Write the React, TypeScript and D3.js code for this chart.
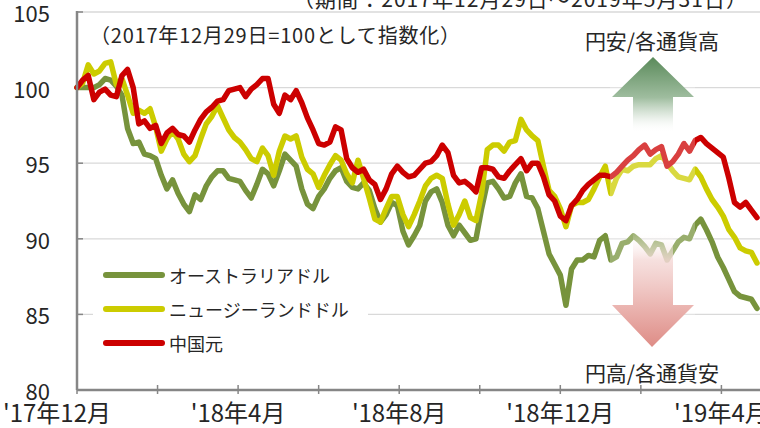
import { useEffect, useRef } from 'react';
import * as d3 from 'd3';

// 2017/12/29 = 100 indexed, one point every 3 trading days
const audValues = [
  100.0, 100.0, 100.0, 100.0, 100.2, 100.6, 100.5, 100.1, 99.5, 97.3,
  96.3, 96.4, 95.6, 95.5, 95.3, 94.2, 93.3, 93.9, 93.0, 92.3,
  91.8, 92.9, 92.6, 93.5, 94.1, 94.5, 94.5, 94.0, 93.9, 93.8,
  93.2, 92.7, 93.6, 94.6, 94.3, 93.5, 94.5, 95.6, 95.2, 94.8,
  93.3, 92.3, 92.0, 92.8, 93.3, 94.0, 94.5, 94.7, 93.8, 93.4,
  93.3, 93.7, 93.2, 92.0, 91.1, 91.6, 92.4, 92.2, 90.5, 89.6,
  90.2, 90.9, 92.5, 93.1, 93.3, 92.4, 90.9, 90.2, 90.9, 90.4,
  89.9, 90.0, 92.0, 93.7, 93.8, 93.3, 92.7, 92.8, 93.7, 94.3,
  92.8, 92.7, 92.0, 90.5, 89.0, 88.3, 87.6, 85.6, 88.0, 88.6,
  88.6, 88.9, 88.8, 89.9, 90.2, 88.6, 88.8, 89.7, 89.8, 90.2,
  89.9, 89.5, 89.0, 89.7, 89.6, 88.6, 89.2, 89.8, 90.1, 90.0,
  90.9, 91.3, 90.6, 89.8, 88.8, 88.1, 87.3, 86.5, 86.2, 86.1,
  86.0, 85.4,
];

const nzdValues = [
  100.0, 100.3, 101.5, 100.9, 101.1, 101.6, 101.7, 100.2, 100.6, 99.5,
  98.3, 98.5, 98.3, 98.6, 97.4, 95.8, 96.6, 97.1, 96.6, 95.6,
  95.1, 95.5, 96.6, 97.6, 98.1, 98.8, 98.0, 97.2, 96.7, 96.4,
  95.9, 95.3, 95.1, 96.0, 95.5, 94.2, 95.8, 96.8, 96.6, 96.8,
  95.4, 94.6, 94.3, 93.4, 94.2, 94.9, 95.5, 95.2, 94.3, 93.7,
  95.2, 94.0, 92.7, 91.3, 91.1, 92.0, 92.8, 92.8, 91.6, 90.8,
  91.6, 92.5, 93.5, 94.0, 94.2, 94.0, 92.3, 90.9, 91.6, 92.5,
  91.4, 91.2, 93.0, 95.9, 96.2, 96.2, 95.8, 96.4, 96.5, 97.9,
  97.2, 96.8, 96.5, 94.8, 93.2, 92.8, 92.0, 90.8, 92.2, 92.4,
  92.4, 92.6, 93.3, 94.1, 94.8, 93.0, 94.0, 94.6, 94.5, 94.8,
  94.9, 94.9, 94.9, 95.3, 95.5, 95.0, 94.5, 94.1, 94.0, 93.9,
  94.6, 94.1, 93.3, 92.6, 92.1, 91.5, 90.6, 90.1, 89.4, 89.2,
  89.1, 88.4,
];

const cnyValues = [
  100.0, 100.5, 100.8, 99.2, 99.7, 99.9, 99.5, 99.4, 100.8, 101.2,
  100.0, 97.6, 97.8, 97.3, 97.5, 96.3, 97.0, 97.3, 96.9, 96.8,
  96.4, 97.2, 97.9, 98.4, 98.7, 99.1, 99.2, 99.8, 99.9, 100.0,
  99.4, 99.9, 100.2, 100.6, 100.6, 98.9, 98.3, 99.5, 99.2, 99.8,
  99.0, 98.0, 97.2, 96.3, 96.2, 96.4, 97.4, 97.2, 95.3, 94.7,
  94.4, 94.6, 93.9, 93.6, 92.6, 93.3, 94.3, 94.8, 94.4, 94.1,
  94.2, 94.6, 95.0, 95.1, 95.5, 96.2, 95.7, 94.2, 93.7, 93.8,
  93.5, 93.1, 94.7, 94.7, 94.6, 94.1, 94.0, 94.5, 94.9, 95.3,
  94.5, 95.0, 95.0, 94.1, 92.9, 92.5, 91.5, 91.2, 92.2, 92.6,
  93.2, 93.6, 93.9, 94.2, 94.2, 94.1, 94.4, 94.8, 95.2, 95.5,
  95.9, 96.2, 95.6, 95.9, 96.1, 94.8, 95.1, 95.6, 96.3, 95.8,
  96.5, 96.7, 96.3, 96.0, 95.7, 95.4, 94.0, 92.4, 92.1, 92.4,
  91.9, 91.4,
];

const seriesNames = ['オーストラリアドル', 'ニュージーランドドル', '中国元'];
const seriesColors = ['#77933C', '#CCCC00', '#CC0000'];

const STEP_DAYS = 3;
const LAST_DAY = 363;
const yTicks = [80, 85, 90, 95, 100, 105];
const xTickDays = [0, 43, 86, 129, 172, 215, 258, 301, 344];
const xTickLabels = ["'17年12月", '', "'18年4月", '', "'18年8月", '', "'18年12月", '', "'19年4月"];

const noteText = '（2017年12月29日=100として指数化）';
const periodText = '（期間：2017年12月29日～2019年5月31日）';
const upText = '円安/各通貨高';
const downText = '円高/各通貨安';

const FONT = "'Noto Sans CJK JP', 'Noto Sans', sans-serif";

export default function App() {
  const svgRef = useRef<SVGSVGElement>(null);

  useEffect(() => {
    if (!svgRef.current) return;
    const width = 760;
    const height = 428;
    const margin = { top: 12, right: 3, bottom: 38, left: 77 };

    const svg = d3.select(svgRef.current);
    svg.selectAll('*').remove();
    svg.attr('width', width).attr('height', height).style('font-family', FONT);

    const x = d3.scaleLinear().domain([0, LAST_DAY]).range([margin.left, width - margin.right]);
    const y = d3.scaleLinear().domain([80, 105]).range([height - margin.bottom, margin.top]);

    svg.append('rect').attr('width', width).attr('height', height).attr('fill', '#fff');

    // period note, cut at top edge
    svg.append('text')
      .attr('x', 293).attr('y', 6.5)
      .attr('font-size', 21)
      .attr('textLength', 454).attr('lengthAdjust', 'spacing')
      .attr('fill', '#262626')
      .text(periodText);

    // grid
    svg.append('g')
      .selectAll('line')
      .data(yTicks.filter(d => d > 80))
      .join('line')
      .attr('x1', margin.left).attr('x2', width)
      .attr('y1', d => y(d)).attr('y2', d => y(d))
      .attr('stroke', '#d9d9d9').attr('stroke-width', 1.3);

    // y labels
    svg.append('g')
      .selectAll('text')
      .data(yTicks)
      .join('text')
      .attr('x', 50).attr('y', d => y(d))
      .attr('text-anchor', 'end').attr('dominant-baseline', 'central')
      .attr('font-size', 22).attr('fill', '#262626')
      .text(d => d);

    // inner y ticks
    svg.append('g')
      .selectAll('line')
      .data(yTicks)
      .join('line')
      .attr('x1', margin.left).attr('x2', margin.left + 6)
      .attr('y1', d => y(d)).attr('y2', d => y(d))
      .attr('stroke', '#868686').attr('stroke-width', 1.5);

    // series
    const line = d3.line<number>()
      .x((_, i) => x(i * STEP_DAYS))
      .y(d => y(d));
    [audValues, nzdValues, cnyValues].forEach((vals, i) => {
      svg.append('path')
        .datum(vals)
        .attr('d', line)
        .attr('fill', 'none')
        .attr('stroke', seriesColors[i])
        .attr('stroke-width', 5.5)
        .attr('stroke-linejoin', 'round')
        .attr('stroke-linecap', 'round');
    });

    // axes
    svg.append('line')
      .attr('x1', margin.left).attr('x2', margin.left)
      .attr('y1', y(105) - 1).attr('y2', y(80))
      .attr('stroke', '#868686').attr('stroke-width', 2.5);
    svg.append('line')
      .attr('x1', margin.left).attr('x2', width)
      .attr('y1', y(80)).attr('y2', y(80))
      .attr('stroke', '#868686').attr('stroke-width', 2.5);
    svg.append('g')
      .selectAll('line')
      .data(xTickDays)
      .join('line')
      .attr('x1', d => x(d)).attr('x2', d => x(d))
      .attr('y1', y(80) - 5).attr('y2', y(80) + 4)
      .attr('stroke', '#868686').attr('stroke-width', 1.5);
    svg.append('g')
      .selectAll('text')
      .data(xTickDays)
      .join('text')
      .attr('x', d => x(d)).attr('y', 422)
      .attr('dx', (_, i) => (i === 0 ? -20 : 0))
      .attr('text-anchor', 'middle')
      .attr('font-size', 24).attr('fill', '#262626')
      .text((_, i) => xTickLabels[i]);

    // index note
    svg.append('text')
      .attr('x', 90).attr('y', 34)
      .attr('dominant-baseline', 'central')
      .attr('font-size', 20)
      .attr('textLength', 370).attr('lengthAdjust', 'spacing')
      .attr('fill', '#262626')
      .text(noteText);

    // arrow graphic
    const defs = svg.append('defs');
    const grad = defs.append('linearGradient')
      .attr('id', 'arrowGrad')
      .attr('gradientUnits', 'userSpaceOnUse')
      .attr('x1', 0).attr('y1', 57).attr('x2', 0).attr('y2', 347);
    [
      [0, '#5a8a5a', 1],
      [0.14, '#9fbd9f', 1],
      [0.21, '#e4ece4', 0.8],
      [0.26, '#ffffff', 0],
      [0.6, '#ffffff', 0],
      [0.7, '#f4d8d6', 0.8],
      [0.855, '#ebb6b2', 1],
      [1, '#de8c86', 1],
    ].forEach(([o, c, a]) => {
      grad.append('stop').attr('offset', o as number).attr('stop-color', c as string).attr('stop-opacity', a as number);
    });
    svg.append('rect')
      .attr('x', 610).attr('y', 57).attr('width', 85).attr('height', 290)
      .attr('fill', '#fff').attr('opacity', 0.25);
    svg.append('path')
      .attr('d', 'M653,57 L694,97 L673,97 L673,305 L694,305 L652,347 L612,305 L633,305 L633,97 L612,97 Z')
      .attr('fill', 'url(#arrowGrad)');

    svg.append('text')
      .attr('x', 652).attr('y', 40)
      .attr('text-anchor', 'middle').attr('dominant-baseline', 'central')
      .attr('font-size', 21).attr('fill', '#262626')
      .text(upText);
    svg.append('text')
      .attr('x', 652).attr('y', 372)
      .attr('text-anchor', 'middle').attr('dominant-baseline', 'central')
      .attr('font-size', 21).attr('fill', '#262626')
      .text(downText);

    // legend
    const legend = svg.append('g');
    legend.append('rect')
      .attr('x', 93).attr('y', 258).attr('width', 275).attr('height', 100)
      .attr('fill', '#fff');
    seriesNames.forEach((name, i) => {
      const ly = 275 + i * 34;
      legend.append('line')
        .attr('x1', 106).attr('x2', 162)
        .attr('y1', ly).attr('y2', ly)
        .attr('stroke', seriesColors[i]).attr('stroke-width', 6)
        .attr('stroke-linecap', 'round');
      legend.append('text')
        .attr('x', 169).attr('y', ly)
        .attr('dominant-baseline', 'central')
        .attr('font-size', 18).attr('fill', '#262626')
        .text(name);
    });
  }, []);

  return (
    <div>
      <style>{'body{margin:0}'}</style>
      <svg ref={svgRef} style={{ display: 'block' }}></svg>
    </div>
  );
}
